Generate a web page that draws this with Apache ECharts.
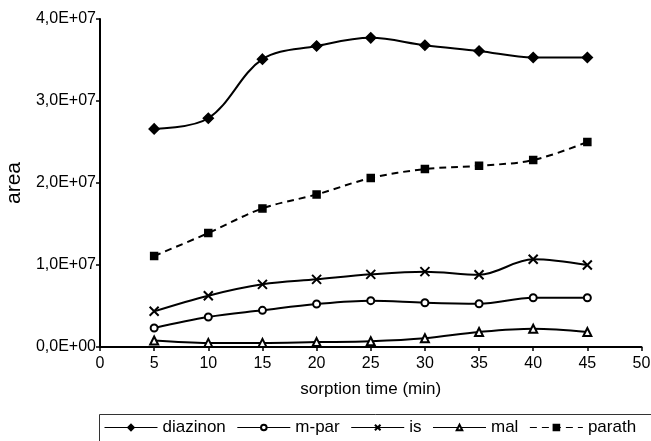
<!DOCTYPE html>
<html>
<head>
<meta charset="utf-8">
<script src="https://cdn.jsdelivr.net/npm/echarts@6/dist/echarts.min.js"></script>
<style>
  html, body { margin: 0; padding: 0; background: #fff; }
  #chart { width: 651px; height: 441px; }
</style>
</head>
<body>
<div id="chart"></div>
<script>
// sorption time (min)
var times = [5, 10, 15, 20, 25, 30, 35, 40, 45]
var diazinon = [2.66e7, 2.79e7, 3.51e7, 3.67e7, 3.77e7, 3.68e7, 3.61e7, 3.53e7, 3.53e7]
var mpar = [0.232e7, 0.366e7, 0.447e7, 0.524e7, 0.565e7, 0.54e7, 0.528e7, 0.60e7, 0.60e7]
var is = [0.435e7, 0.626e7, 0.764e7, 0.825e7, 0.886e7, 0.919e7, 0.882e7, 1.07e7, 1.0e7]
var mal = [0.08e7, 0.05e7, 0.05e7, 0.06e7, 0.07e7, 0.106e7, 0.183e7, 0.223e7, 0.183e7]
var parath = [1.11e7, 1.39e7, 1.69e7, 1.86e7, 2.06e7, 2.17e7, 2.21e7, 2.28e7, 2.50e7]

var font = 'Liberation Sans, Arial, sans-serif'

function pairs(vals) {
  return times.map(function (t, i) { return [t, vals[i]] })
}

function makeSeries(name, vals, symbol, size, dashed, extra) {
  var s = {
    name: name,
    type: 'line',
    data: pairs(vals),
    smooth: 0.35,
    symbol: symbol,
    symbolSize: size,
    showAllSymbol: true,
    lineStyle: { color: '#000', width: 2, type: dashed ? [7, 5] : 'solid' },
    itemStyle: { color: '#000', borderColor: '#000', borderWidth: 1.5 },
    emphasis: { disabled: true }
  }
  return Object.assign(s, extra || {})
}

var chart = echarts.init(document.getElementById('chart'))
chart.setOption({
  backgroundColor: '#fff',
  animation: false,
  textStyle: { fontFamily: font, color: '#000' },
  grid: { left: 100, right: 9.5, top: 19, bottom: 94, containLabel: false, outerBoundsMode: 'none' },
  xAxis: {
    type: 'value',
    min: 0,
    max: 50,
    interval: 5,
    name: 'sorption time (min)',
    nameLocation: 'middle',
    nameGap: 34,
    nameTextStyle: { fontSize: 17, color: '#000', fontFamily: font },
    axisLine: { lineStyle: { color: '#000', width: 2 } },
    axisTick: { lineStyle: { color: '#000', width: 1.5 }, length: 4 },
    axisLabel: { fontSize: 16, color: '#000', margin: 9, fontFamily: font },
    splitLine: { show: false }
  },
  yAxis: {
    type: 'value',
    min: 0,
    max: 4e7,
    interval: 1e7,
    name: 'area',
    nameLocation: 'middle',
    nameGap: 72,
    nameTextStyle: { fontSize: 21, color: '#000', fontFamily: font },
    axisLine: { show: true, lineStyle: { color: '#000', width: 2 } },
    axisTick: { show: true, lineStyle: { color: '#000', width: 1.5 }, length: 4 },
    axisLabel: {
      fontSize: 16,
      color: '#000',
      margin: 4,
      fontFamily: font,
      formatter: function (v) {
        if (v === 0) return '0,0E+00'
        return (v / 1e7).toFixed(1).replace('.', ',') + 'E+07'
      }
    },
    splitLine: { show: false }
  },
  // legend frame runs off the right edge like in the original
  graphic: [{
    type: 'rect',
    left: 97,
    top: 412,
    shape: { width: 600, height: 40 },
    style: { fill: 'none', stroke: '#333', lineWidth: 1 },
    silent: true
  }],
  legend: {
    left: 104,
    top: 419,
    width: 900,
    orient: 'horizontal',
    itemWidth: 53,
    itemHeight: 7,
    itemGap: 11,
    padding: 0,
    lineStyle: { width: 1 },
    textStyle: { fontSize: 17, color: '#000', fontFamily: font },
    data: ['diazinon', 'm-par', 'is', 'mal', 'parath']
  },
  series: [
    makeSeries('diazinon', diazinon, 'diamond', 10, false),
    makeSeries('m-par', mpar, 'emptyCircle', 7, false),
    makeSeries('is', is, 'path://M0 0L10 10M10 0L0 10', 9, false, {
      itemStyle: { color: '#000', borderColor: '#000', borderWidth: 2 }
    }),
    makeSeries('mal', mal, 'emptyTriangle', 8, false),
    makeSeries('parath', parath, 'rect', 7, true)
  ]
})
</script>
</body>
</html>
